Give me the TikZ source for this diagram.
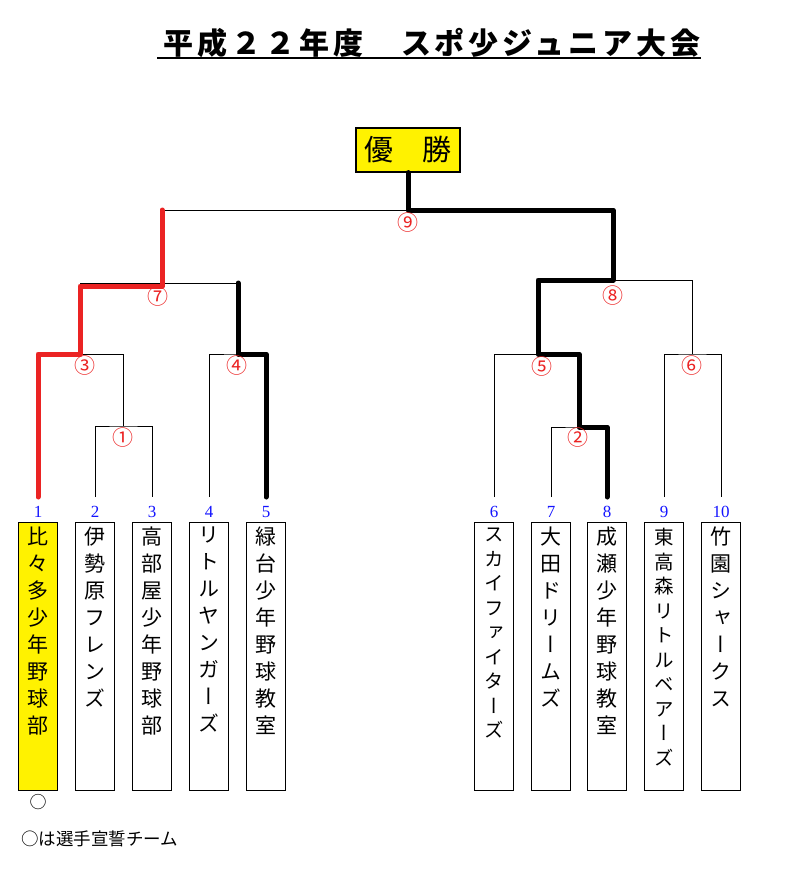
\documentclass[tikz,border=0pt]{standalone}
\usepackage{fontspec}
\setmainfont{Liberation Serif}
\newfontfamily\jp{Noto Sans CJK JP}
\newfontfamily\jpv[RawFeature=+vert]{Noto Sans CJK JP}
\newfontfamily\jpt[LetterSpace=13]{Noto Sans CJK JP}
\definecolor{wred}{RGB}{235,35,35}
\definecolor{wblue}{RGB}{20,20,255}
\tikzset{
  team/.style={draw, line width=1.2pt, minimum width=39pt, minimum height=268pt, inner sep=0pt, anchor=north},
  winner/.style={team, fill=yellow},
  vname/.style={anchor=north, inner sep=0pt, align=center, font=\jpv\fontsize{21}{27}\selectfont},
  vsmall/.style={anchor=north, inner sep=0pt, align=center, font=\jpv\fontsize{19.5}{24.5}\selectfont},
  num/.style={text=wblue, font=\fontsize{17}{17}\selectfont, inner sep=0pt},
  mlabel/.style={text=wred, font=\jp\fontsize{21}{21}\selectfont, inner sep=0pt},
  thinline/.style={line width=1pt},
  thickb/.style={line width=5pt, line cap=round, line join=round},
  thickr/.style={line width=5pt, draw=wred, line cap=round, line join=round},
}
\begin{document}
\begin{tikzpicture}[x=1pt,y=-1pt]
\useasboundingbox (0,0) rectangle (795,870);

% title
\node[font=\jpt\bfseries\fontsize{30}{30}\selectfont, inner sep=0pt, anchor=base] (title) at (432,54) {平成２２年度　スポ少ジュニア大会};
\draw[line width=2pt] (157,58) coordinate (ul1) -- (701,58) coordinate (ul2);

% champion
\node[draw, fill=yellow, line width=1.2pt, minimum width=104pt, minimum height=44pt, inner sep=0pt, font=\jp\fontsize{29}{29}\selectfont] (champ) at (408,150) {優　勝};

% team boxes
\node[winner] (t1) at (38,522) {};
\node[team] (t2) at (95,522) {};
\node[team] (t3) at (152,522) {};
\node[team] (t4) at (209,522) {};
\node[team] (t5) at (266,522) {};
\node[team] (t6) at (494,522) {};
\node[team] (t7) at (551,522) {};
\node[team] (t8) at (607,522) {};
\node[team] (t9) at (664,522) {};
\node[team] (t10) at (721,522) {};

% team names
\node[vname] (v1) at ([yshift=-5pt]t1.north) {比\\々\\多\\少\\年\\野\\球\\部};
\node[vname] (v2) at ([yshift=-5pt]t2.north) {伊\\勢\\原\\フ\\レ\\ン\\ズ};
\node[vname] (v3) at ([yshift=-5pt]t3.north) {高\\部\\屋\\少\\年\\野\\球\\部};
\node[vname] (v4) at ([yshift=-5pt]t4.north) {リ\\ト\\ル\\ヤ\\ン\\ガ\\ー\\ズ};
\node[vname] (v5) at ([yshift=-5pt]t5.north) {緑\\台\\少\\年\\野\\球\\教\\室};
\node[vsmall] (v6) at ([yshift=-6pt]t6.north) {ス\\カ\\イ\\フ\\ァ\\イ\\タ\\ー\\ズ};
\node[vname] (v7) at ([yshift=-5pt]t7.north) {大\\田\\ド\\リ\\ー\\ム\\ズ};
\node[vname] (v8) at ([yshift=-5pt]t8.north) {成\\瀬\\少\\年\\野\\球\\教\\室};
\node[vsmall] (v9) at ([yshift=-6pt]t9.north) {東\\高\\森\\リ\\ト\\ル\\ベ\\ア\\ー\\ズ};
\node[vname] (v10) at ([yshift=-5pt]t10.north) {竹\\園\\シ\\ャ\\ー\\ク\\ス};

% numbers
\node[num] (n1) at (38,512) {1};
\node[num] (n2) at (95,512) {2};
\node[num] (n3) at (152,512) {3};
\node[num] (n4) at (209,512) {4};
\node[num] (n5) at (266,512) {5};
\node[num] (n6) at (494,512) {6};
\node[num] (n7) at (551,512) {7};
\node[num] (n8) at (607,512) {8};
\node[num] (n9) at (664,512) {9};
\node[num] (n10) at (721,512) {10};

% line ends
\foreach \i/\x in {1/38,2/95,3/152,4/209,5/266,6/494,7/551,8/607,9/664,10/721}
  \coordinate (p\i) at (\x,497);

% match points
\coordinate (m1) at (123,426);
\coordinate (m2) at (579,427);
\coordinate (m3) at (80,354);
\coordinate (m4) at (238,354);
\coordinate (m5) at (538,354);
\coordinate (m6) at (692,354);
\coordinate (m7) at (162,283);
\coordinate (m8) at (613,280);
\coordinate (m9) at (408,210);

% thin bracket
\draw[thinline] (p2) |- (m1) -| (p3);
\draw[thinline] (m1) -- (m1 |- m3);
\draw[thinline] (p1) |- (m1 |- m3);
\draw[thinline] (m3) -- (m3 |- m7) -| (m4);
\draw[thinline] (p4) |- (m4) -| (p5);
\draw[thinline] (m7) -- (m7 |- m9) -| (m8);
\draw[thinline] (p7) |- (m2) -| (p8);
\draw[thinline] (m2) -- (m2 |- m5);
\draw[thinline] (p6) |- (m2 |- m5);
\draw[thinline] (m5) -- (m5 |- m8) -| (m6);
\draw[thinline] (p9) |- (m6) -| (p10);

% winners
\draw[thickr] (p1) |- (m3) -- ([yshift=-3pt]m3 |- m7) -- ([yshift=-3pt]m7) -- (m7 |- m9);
\draw[thickb] (p5) |- (m4) -- (m4 |- m7);
\draw[thickb] (p8) |- (m2) |- (m5) |- (m8) |- (m9) -- (champ.south);

% match labels
\node[mlabel] (l1) at (123,438) {①};
\node[mlabel] (l2) at (578,438) {②};
\node[mlabel] (l3) at (85,366) {③};
\node[mlabel] (l4) at (237,366) {④};
\node[mlabel] (l5) at (542,367) {⑤};
\node[mlabel] (l6) at (692,366) {⑥};
\node[mlabel] (l7) at (158,297) {⑦};
\node[mlabel] (l8) at (613,296) {⑧};
\node[mlabel] (l9) at (408,223) {⑨};

% note
\node[font=\jp\fontsize{17}{17}\selectfont, inner sep=0pt] (circ) at (38,802) {○};
\node[font=\jp\fontsize{17.5}{17.5}\selectfont, inner sep=0pt, anchor=west] (note) at (21,839) {○は選手宣誓チーム};
\end{tikzpicture}
\end{document}
